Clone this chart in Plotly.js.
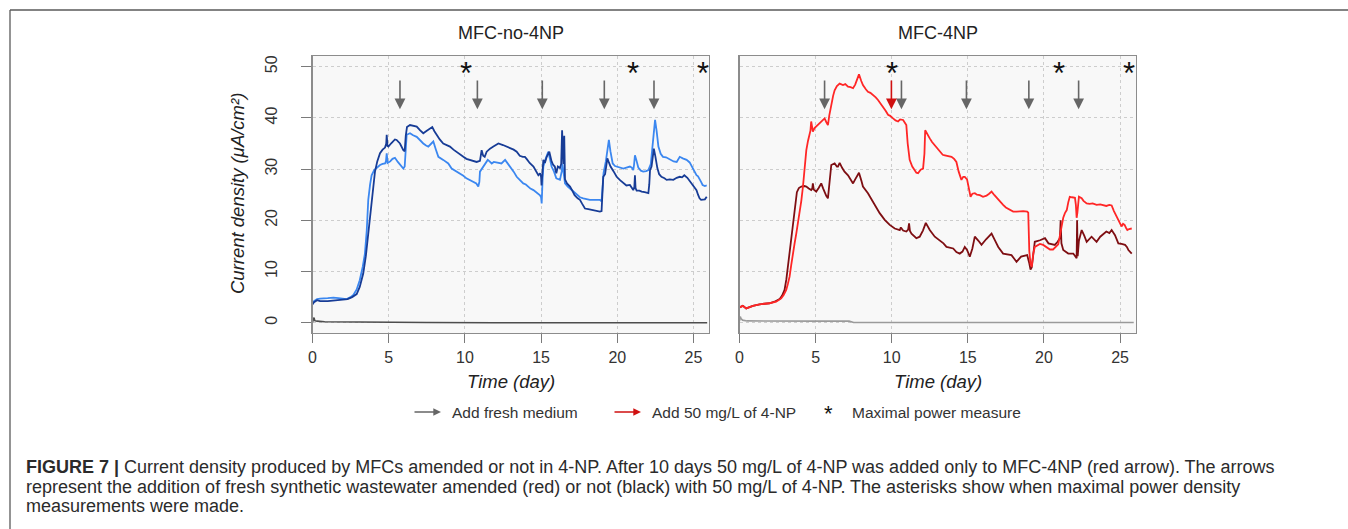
<!DOCTYPE html>
<html>
<head>
<meta charset="utf-8">
<script src="https://cdn.plot.ly/plotly-3.0.1.min.js"></script>
<style>html,body{margin:0;padding:0;background:#fff;}#chart{width:1348px;height:529px;}</style>
</head>
<body>
<div id="chart"></div>
<script>
// ---------------- DATA ----------------
// MFC-no-4NP, dark blue replicate
var noNP_dark_day = [0,0.1,0.3,0.5,1.0,1.5,2.0,2.3,2.6,2.9,3.1,3.33,3.5,3.66,3.78,3.88,4.0,4.1,4.25,4.43,4.6,4.76,4.84,4.87,4.92,4.98,5.15,5.3,5.41,5.52,5.74,5.96,6.05,6.12,6.2,6.4,6.6,6.84,7.05,7.27,7.5,7.71,7.86,8.0,8.15,8.35,8.58,8.8,9.02,9.25,9.46,9.7,9.9,10.1,10.3,10.55,10.77,10.99,11.05,11.1,11.2,11.3,11.43,11.65,11.87,12.05,12.2,12.5,12.75,12.96,13.2,13.4,13.6,13.8,13.94,14.05,14.25,14.5,14.7,14.82,14.93,15.0,15.03,15.1,15.15,15.25,15.37,15.54,15.62,15.69,15.8,15.9,16.0,16.1,16.24,16.32,16.38,16.42,16.46,16.52,16.57,16.7,16.9,17.05,17.2,17.4,17.55,17.7,17.88,18.1,18.42,18.65,18.86,18.97,19.02,19.08,19.2,19.35,19.45,19.56,19.75,19.96,20.2,20.4,20.6,20.83,21.0,21.05,21.12,21.16,21.2,21.27,21.45,21.6,21.8,22.04,22.1,22.15,22.25,22.4,22.5,22.63,22.75,22.9,23.1,23.24,23.45,23.68,23.9,24.1,24.25,24.4,24.6,24.8,25.0,25.2,25.3,25.4,25.5,25.6,25.75,25.87];
var noNP_dark_val = [3.6,4.0,4.4,4.2,4.2,4.3,4.5,4.6,5.0,5.6,7.0,9.6,13.0,17.4,21.0,24.0,27.5,29.5,31.5,33.1,33.8,34.2,35.0,36.7,34.5,34.4,35.0,35.4,35.8,35.7,35.0,33.7,33.5,36.5,38.2,38.6,38.4,38.3,37.6,37.0,37.5,38.0,38.2,37.4,36.7,35.8,35.0,34.7,34.4,33.8,33.4,32.8,32.4,32.0,31.8,31.5,31.4,31.6,32.5,33.7,32.6,32.4,33.4,34.0,34.4,34.8,35.0,34.7,34.4,34.0,33.8,33.4,32.6,32.4,32.4,32.0,31.2,30.5,29.4,28.8,29.2,28.5,26.8,30.5,31.8,31.2,32.4,33.4,32.0,31.5,30.8,30.5,29.2,30.5,30.2,31.0,37.6,34.0,31.0,36.5,28.0,27.2,26.6,25.8,24.9,24.3,24.0,23.2,22.3,22.2,22.0,21.9,21.7,21.8,25.0,28.5,29.0,32.1,31.3,30.5,29.6,28.5,27.8,27.2,26.8,26.9,26.3,25.9,26.5,28.8,26.3,25.8,25.8,25.6,25.5,25.3,27.0,29.8,30.5,34.0,32.5,30.2,29.0,28.5,28.2,27.9,28.0,27.9,28.3,28.5,28.4,28.8,28.3,27.5,26.8,25.9,25.0,24.3,24.0,24.0,24.1,24.6];
// MFC-no-4NP, light blue replicate
var noNP_light_day = [0,0.1,0.3,0.5,1.0,1.37,1.7,2.0,2.24,2.5,2.68,2.9,3.1,3.3,3.44,3.56,3.66,3.78,3.88,4.05,4.21,4.43,4.6,4.76,4.82,4.87,4.93,5.1,5.25,5.41,5.6,5.74,5.96,6.05,6.12,6.18,6.4,6.6,6.84,7.05,7.27,7.45,7.6,7.8,7.93,8.1,8.26,8.58,8.91,9.13,9.4,9.68,9.9,10.1,10.3,10.55,10.75,10.88,10.95,10.99,11.1,11.2,11.35,11.5,11.62,11.76,11.9,12.08,12.25,12.4,12.64,12.8,12.96,13.2,13.4,13.6,13.83,14.0,14.16,14.3,14.5,14.7,14.93,15.0,15.04,15.1,15.15,15.3,15.47,15.58,15.69,15.85,16.0,16.24,16.35,16.4,16.48,16.57,16.75,16.9,17.1,17.34,17.55,17.77,18.0,18.2,18.5,18.86,18.97,19.05,19.1,19.25,19.38,19.45,19.55,19.7,19.85,19.96,20.2,20.4,20.6,20.83,20.95,21.05,21.1,21.16,21.25,21.38,21.55,21.7,21.9,22.04,22.2,22.35,22.48,22.58,22.7,22.85,23.0,23.2,23.46,23.7,23.9,24.0,24.1,24.3,24.55,24.75,24.9,25.05,25.2,25.3,25.4,25.5,25.6,25.75,25.87];
var noNP_light_val = [3.6,4.2,4.6,4.7,4.8,4.9,4.8,4.7,4.6,5.0,5.4,6.5,8.3,11.0,13.5,18.0,24.0,27.0,28.8,29.8,30.3,30.8,31.0,31.1,31.5,33.1,31.2,31.5,32.0,32.2,31.4,30.8,30.1,30.5,34.5,36.7,37.0,36.6,36.3,35.6,35.0,34.6,34.4,35.0,35.4,33.8,32.4,31.8,31.1,30.1,29.6,29.2,28.7,28.2,27.9,27.5,27.2,26.6,27.5,29.5,30.0,30.5,31.0,31.8,31.5,31.1,31.4,31.3,31.1,31.1,31.8,31.2,30.5,29.5,28.5,27.8,27.2,27.0,26.6,26.2,25.9,25.4,24.9,24.5,23.3,28.0,30.5,32.0,33.4,32.0,30.5,29.5,28.2,27.9,29.5,31.0,29.0,27.2,26.6,26.2,25.6,24.9,24.5,24.3,24.1,24.0,24.0,24.0,23.7,26.5,29.2,31.5,35.0,35.7,33.5,31.1,30.6,30.5,30.2,30.1,30.3,30.5,30.3,29.8,30.8,32.7,31.8,30.3,29.7,29.5,29.6,29.8,31.0,36.0,39.6,37.5,34.4,33.0,32.4,32.3,31.8,31.5,31.4,31.8,32.4,32.1,31.8,31.3,30.5,29.6,28.8,28.6,27.9,27.5,26.9,26.7,26.8];
// MFC-no-4NP, control (dark gray)
var noNP_ctrl_day = [0,0.05,0.1,0.15,0.3,0.8,2,4,7.5,12,25.9];
var noNP_ctrl_val = [0.1,0.5,1.0,0.4,0.3,0.2,0.15,0.1,0.05,0,0];

// MFC-4NP, dark red replicate
var np_dark_day = [0,0.22,0.44,0.88,1.32,1.97,2.3,2.63,2.8,2.96,3.08,3.18,3.3,3.4,3.52,3.62,3.7,3.77,3.9,4.06,4.25,4.39,4.55,4.71,4.78,4.82,4.88,5.04,5.2,5.37,5.5,5.59,5.7,5.81,5.92,6.03,6.25,6.4,6.47,6.58,6.75,6.9,7.13,7.3,7.46,7.6,7.68,7.85,8.0,8.11,8.44,8.77,9.0,9.21,9.54,9.87,10.2,10.4,10.53,10.6,10.75,10.96,11.08,11.14,11.2,11.3,11.62,11.84,12.05,12.24,12.5,12.83,13.16,13.4,13.6,14.04,14.25,14.47,14.65,14.8,14.95,15.13,15.3,15.46,15.7,15.9,16.2,16.56,16.8,17.0,17.32,17.6,17.87,18.05,18.2,18.5,18.7,18.9,19.04,19.12,19.2,19.3,19.4,19.74,20.07,20.3,20.5,20.72,20.9,21.05,21.1,21.15,21.27,21.6,21.93,22.1,22.15,22.18,22.22,22.3,22.48,22.65,22.81,23.13,23.46,23.7,23.9,24.1,24.3,24.45,24.67,24.89,25.1,25.33,25.45,25.55,25.77];
var np_dark_val = [3.0,3.3,2.8,3.3,3.6,3.8,4.1,4.6,5.3,6.4,8.5,10.9,14.0,16.8,19.5,21.4,23.5,25.5,26.3,26.6,26.7,26.6,26.2,25.9,26.2,27.2,26.0,25.6,26.3,27.2,26.2,25.4,24.8,24.3,27.0,30.8,31.1,30.5,30.5,31.2,30.2,29.5,28.8,28.0,27.2,28.0,28.5,29.3,27.8,26.6,25.3,23.6,22.5,21.4,20.1,19.1,18.4,18.2,18.1,18.6,18.0,17.8,18.2,19.4,17.9,17.4,16.5,16.8,18.0,19.5,18.1,16.8,16.1,15.5,14.8,14.5,13.8,13.5,13.9,14.8,14.2,12.9,14.5,16.8,16.0,15.2,16.3,17.4,16.0,14.8,13.5,13.3,13.2,12.5,11.9,12.9,13.0,13.2,11.6,10.4,10.8,13.5,15.8,16.1,16.5,15.5,15.3,15.2,15.8,16.5,20.0,15.5,14.2,13.5,13.5,12.8,12.6,20.0,13.0,16.0,18.1,17.0,15.8,16.8,15.8,16.8,17.4,17.8,17.5,18.1,17.1,15.5,15.4,15.2,14.8,14.2,13.5];
// MFC-4NP, red replicate
var np_red_day = [0,0.22,0.44,0.88,1.32,1.97,2.41,2.74,2.9,3.07,3.18,3.29,3.4,3.5,3.62,3.73,3.85,3.95,4.06,4.17,4.28,4.39,4.5,4.6,4.66,4.71,4.76,4.82,4.93,5.04,5.26,5.45,5.59,5.7,5.81,5.9,6.03,6.15,6.25,6.4,6.58,6.8,6.95,7.13,7.3,7.46,7.6,7.68,7.85,8.0,8.11,8.3,8.44,8.6,8.77,8.95,9.1,9.28,9.43,9.6,9.76,9.9,10.09,10.25,10.42,10.55,10.75,10.85,10.96,11.05,11.18,11.35,11.5,11.62,11.73,11.9,12.06,12.15,12.2,12.35,12.5,12.65,12.83,13.0,13.16,13.35,13.49,13.7,13.93,14.1,14.25,14.4,14.58,14.7,14.8,14.95,15.08,15.18,15.3,15.46,15.6,15.79,16.0,16.23,16.4,16.56,16.75,17.0,17.32,17.5,17.76,17.98,18.2,18.64,18.9,18.97,19.04,19.12,19.2,19.3,19.4,19.6,19.74,19.95,20.18,20.4,20.6,20.8,20.94,21.05,21.16,21.27,21.38,21.5,21.6,21.7,21.85,22.04,22.1,22.15,22.2,22.3,22.48,22.6,22.81,23.0,23.2,23.46,23.7,23.9,24.1,24.3,24.45,24.6,24.78,24.95,25.1,25.2,25.3,25.4,25.48,25.6,25.77];
var np_red_val = [3.0,3.3,2.8,3.3,3.6,3.8,4.1,4.75,5.4,6.4,7.6,9.0,11.3,13.5,15.5,17.4,19.5,21.4,23.8,26.6,30.5,33.7,35.5,36.7,37.5,39.3,37.8,37.3,38.0,38.3,38.9,39.6,39.9,39.2,38.6,40.5,42.8,44.3,45.4,46.2,46.7,46.4,46.6,46.1,46.0,45.8,46.5,47.1,48.5,47.2,46.4,45.6,45.1,44.9,44.5,44.0,43.5,42.8,42.2,41.4,40.6,40.4,39.9,39.5,39.3,39.7,39.6,39.0,38.6,35.0,31.8,30.5,29.8,29.3,29.2,29.9,30.1,33.0,37.6,36.7,36.0,35.3,34.7,34.0,33.4,32.8,32.7,32.6,32.4,32.0,31.4,29.5,27.9,28.5,28.5,28.0,26.0,24.6,25.2,25.3,25.0,24.9,24.6,24.8,25.2,25.6,24.9,24.0,23.0,22.5,22.0,21.7,21.7,21.8,21.7,21.5,14.0,11.5,10.9,13.5,14.8,15.2,15.4,15.2,14.8,14.3,14.3,14.8,15.3,17.0,19.2,20.5,21.4,22.0,23.5,24.6,24.5,24.4,23.0,20.5,21.5,24.6,24.3,23.8,23.3,23.2,23.3,23.0,23.1,23.0,22.8,23.0,22.9,21.8,20.7,19.8,18.8,19.3,19.1,18.5,18.1,18.3,18.4];
// MFC-4NP, control (light gray)
var np_ctrl_day = [0,0.05,0.1,0.2,0.5,2,5,7.2,7.5,25.9];
var np_ctrl_val = [0.3,1.2,0.8,0.5,0.35,0.3,0.3,0.3,0.05,0.05];

// events
var noNP_feed_days = [5.74,10.82,15.08,19.15,22.41];
var np_feed_days = [5.59,10.64,14.91,19.01,22.28];
var np_4np_days = [9.98];
var noNP_power_days = [10.05,21.05,25.65];
var np_power_days = [10.02,21.0,25.61];

var xTicks = [0,5,10,15,20,25];
var yTicks = [0,10,20,30,40,50];
var panelTitles = ['MFC-no-4NP','MFC-4NP'];
var xTitle = 'Time (day)';
var yTitle = 'Current density (μA/cm²)';
var legendLabels = ['Add fresh medium','Add 50 mg/L of 4-NP','Maximal power measure'];
var captionLines = [
  '<b>FIGURE 7 |</b> Current density produced by MFCs amended or not in 4-NP. After 10 days 50 mg/L of 4-NP was added only to MFC-4NP (red arrow). The arrows',
  'represent the addition of fresh synthetic wastewater amended (red) or not (black) with 50 mg/L of 4-NP. The asterisks show when maximal power density',
  'measurements were made.'
];

// ---------------- LAYOUT ----------------
var W = 1348, H = 529;
function px(x){return x/W;}
function py(y){return 1 - y/H;}
var FONT = 'Liberation Sans, Arial, sans-serif';

var traces = [
  {x: noNP_ctrl_day, y: noNP_ctrl_val, xaxis:'x', yaxis:'y', mode:'lines', line:{color:'#4d4d4d', width:1.6}},
  {x: noNP_light_day, y: noNP_light_val, xaxis:'x', yaxis:'y', mode:'lines', line:{color:'#3b87f0', width:1.8}},
  {x: noNP_dark_day, y: noNP_dark_val, xaxis:'x', yaxis:'y', mode:'lines', line:{color:'#173c96', width:1.8}},
  {x: np_ctrl_day, y: np_ctrl_val, xaxis:'x2', yaxis:'y2', mode:'lines', line:{color:'#9a9a9a', width:1.6}},
  {x: np_dark_day, y: np_dark_val, xaxis:'x2', yaxis:'y2', mode:'lines', line:{color:'#7e0e12', width:1.8}},
  {x: np_red_day, y: np_red_val, xaxis:'x2', yaxis:'y2', mode:'lines', line:{color:'#ff2626', width:1.8}}
];

var plotTop = 56, plotBot = 333;
var axBase = {
  ticks:'outside', ticklen:9, tickwidth:1, tickcolor:'#7a7a7a',
  showline:true, mirror:true, linecolor:'#8c8c8c', linewidth:1.3,
  showgrid:true, gridcolor:'#cdcdcd', griddash:'dot', gridwidth:1,
  zeroline:false, tickfont:{family:FONT, size:16, color:'#333'}
};
function merge(a,b){var o={};for(var k in a)o[k]=a[k];for(var k2 in b)o[k2]=b[k2];return o;}

var layout = {
  width:W, height:H, margin:{l:0,r:0,t:0,b:0},
  paper_bgcolor:'#ffffff', plot_bgcolor:'#f8f8f8', showlegend:false,
  font:{family:FONT, color:'#333'},
  xaxis: merge(axBase, {domain:[px(312.5), px(709)], range:[0,26.02], tickmode:'array', tickvals:xTicks, anchor:'y'}),
  yaxis: merge(axBase, {domain:[py(plotBot), py(plotTop)], range:[-2.01,52.09], tickmode:'array', tickvals:yTicks, tickangle:-90, ticklen:10, ticklabelstandoff:18, anchor:'x'}),
  xaxis2: merge(axBase, {domain:[px(739.5), px(1136)], range:[0,26.05], tickmode:'array', tickvals:xTicks, anchor:'y2'}),
  yaxis2: merge(axBase, {domain:[py(plotBot), py(plotTop)], range:[-2.01,52.09], tickmode:'array', tickvals:yTicks, ticks:'', showticklabels:false, anchor:'x2'}),
  annotations: [],
  shapes: [
    {type:'line', xref:'paper', yref:'paper', x0:px(10), x1:1, y0:py(10), y1:py(10), line:{color:'#5a5a5a', width:1.3}},
    {type:'line', xref:'paper', yref:'paper', x0:px(10), x1:px(10), y0:0, y1:py(10), line:{color:'#5a5a5a', width:1.3}}
  ]
};

var A = layout.annotations;
var ARROW_TOP = 47.6, ARROW_TIP = 41.7, STAR_Y = 50;
function addArrow(xr, yr, day, color){
  A.push({xref:xr, yref:yr, axref:xr, ayref:yr, x:day, y:ARROW_TIP, ax:day, ay:ARROW_TOP,
    text:'', showarrow:true, arrowhead:2, arrowsize:1.35, arrowwidth:1.6, arrowcolor:color});
}
function addStar(xr, yr, day){
  A.push({xref:xr, yref:yr, x:day, y:STAR_Y, xanchor:'center', yanchor:'middle', text:'*', showarrow:false, yshift:-7,
    font:{family:FONT, size:31, color:'#111'}});
}
noNP_feed_days.forEach(function(d){addArrow('x','y',d,'#666666');});
np_feed_days.forEach(function(d){addArrow('x2','y2',d,'#666666');});
np_4np_days.forEach(function(d){addArrow('x2','y2',d,'#d01010');});
noNP_power_days.forEach(function(d){addStar('x','y',d);});
np_power_days.forEach(function(d){addStar('x2','y2',d);});

function label(x, y, text, size, extra){
  var a = {xref:'paper', yref:'paper', x:px(x), y:py(y), xanchor:'center', yanchor:'middle', text:text, showarrow:false,
    font:{family:FONT, size:size, color:'#222'}};
  if(extra){for(var k in extra) a[k]=extra[k];}
  A.push(a);
}
// panel titles
label(511, 33, panelTitles[0], 18);
label(938, 33, panelTitles[1], 18);
// axis titles
label(511, 381, '<i>'+xTitle+'</i>', 18.5);
label(938, 381, '<i>'+xTitle+'</i>', 18.5);
label(238, 194, '<i>'+yTitle+'</i>', 18.5, {textangle:-90});

// legend
var LEG_Y = 412;
A.push({xref:'paper', yref:'paper', x:px(441), y:py(LEG_Y), ax:-28, ay:0, text:'', showarrow:true, arrowhead:2, arrowsize:1.1, arrowwidth:1.4, arrowcolor:'#666666'});
label(450, LEG_Y, legendLabels[0], 15.5, {xanchor:'left', font:{family:FONT, size:15.5, color:'#333'}});
A.push({xref:'paper', yref:'paper', x:px(641), y:py(LEG_Y), ax:-28, ay:0, text:'', showarrow:true, arrowhead:2, arrowsize:1.1, arrowwidth:1.4, arrowcolor:'#d01010'});
label(650, LEG_Y, legendLabels[1], 15.5, {xanchor:'left', font:{family:FONT, size:15.5, color:'#333'}});
label(829, LEG_Y, '*', 22, {yshift:-1, font:{family:FONT, size:22, color:'#111'}});
label(850, LEG_Y, legendLabels[2], 15.5, {xanchor:'left', font:{family:FONT, size:15.5, color:'#333'}});

// caption
var capY = [467, 486.5, 506];
captionLines.forEach(function(t,i){
  label(24, capY[i], t, 18, {xanchor:'left', font:{family:FONT, size:18, color:'#2b2b2b'}});
});

Plotly.newPlot('chart', traces, layout, {staticPlot:true, displayModeBar:false});
</script>
</body>
</html>
